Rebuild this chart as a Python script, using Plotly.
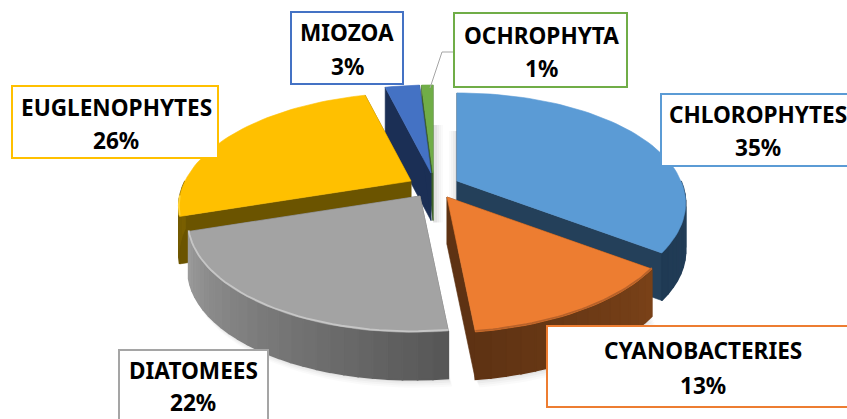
import math
import plotly.graph_objects as go

# ---- data
categories = ["CHLOROPHYTES", "CYANOBACTERIES", "DIATOMEES", "EUGLENOPHYTES", "MIOZOA", "OCHROPHYTA"]
values = [35, 13, 22, 26, 3, 1]

# ---- style
top_colors = ["#5b9bd5", "#ed7d31", "#a3a3a3", "#ffc000", "#4472c4", "#70ad47"]
wall_colors = ["#24405a", "#5e3213", "#5f5f5f", "#6b5400", "#1b2f55", "#3d6128"]
rim_from = ["#24405a", "#7a4218", "#9c9c9c", "#7a6000", "#1b2f55", "#3d6128"]
rim_to = ["#1f3a54", "#5e3213", "#565656", "#6b5400", "#1b2f55", "#3d6128"]
edge_colors = [None, "#b8622a", "#c6c6c6", "#ffd43a", None, None]
box_colors = ["#5b9bd5", "#ed7d31", "#a5a5a5", "#ffc000", "#4472c4", "#70ad47"]
FONT = "Noto Sans"

# ---- projection and exploded apex of each slice (pixels)
apex = [(457, 181), (447, 197), (420, 196), (411, 181), (431, 173), (433, 173)]
RX, RY, K, T = 228, 107, 0.215, 47.5
RX_LEFT = 222
paint_order = [5, 4, 0, 3, 1, 2]

boxes = [(661, 94, 860, 166), (547, 326, 860, 407), (119, 350, 268, 430),
         (12, 86, 218, 158), (291, 12, 403, 84), (454, 13, 627, 87)]
label_xy = [(758, 114, 147), (703, 350, 385), (193, 370, 402),
            (116, 107, 140), (347, 32, 66), (541, 35, 68)]


def pt(a, th):
    s, c = math.sin(math.radians(th)), math.cos(math.radians(th))
    w = 1 + K * c
    rx = RX if s >= 0 else RX_LEFT
    return a[0] + rx * s / w - 4 * (1 - c), a[1] - RY * c / w


def mix(c1, c2, t):
    p = [int(c1[i:i + 2], 16) for i in (1, 3, 5)]
    q = [int(c2[i:i + 2], 16) for i in (1, 3, 5)]
    return "rgb(%d,%d,%d)" % tuple(round(a + (b - a) * t) for a, b in zip(p, q))


def poly(fig, pts, color, lw=0.6):
    xs = [p[0] for p in pts] + [pts[0][0]]
    ys = [p[1] for p in pts] + [pts[0][1]]
    fig.add_trace(go.Scatter(x=xs, y=ys, mode="lines", fill="toself", fillcolor=color,
                             line=dict(color=color if lw else "rgba(0,0,0,0)", width=lw),
                             hoverinfo="skip", showlegend=False))


fig = go.Figure()
total = sum(values)
starts, acc = [], 0
for v in values:
    starts.append(acc / total * 360)
    acc += v

# soft ground shadow under the front slices
for grow, alpha in ((8, 0.02), (6, 0.025), (4, 0.03), (2, 0.04)):
    for i in (1, 2):
        a = apex[i]
        t0, t1 = starts[i], starts[i] + values[i] / total * 360
        n = 30
        arc = [pt(a, t0 + (t1 - t0) * j / n) for j in range(n + 1)]
        low = [(x + grow * 0.5, y + T + grow) for x, y in arc]
        poly(fig, [(a[0], a[1] + T)] + low, "rgba(0,0,0,%g)" % alpha, 0)
    # faint shadow in the gap beside the thin slice and the large slice
    a = apex[5]
    poly(fig, [(a[0], a[1] - 48), (a[0] + 2 + grow, a[1] - 48), (a[0] + 2 + grow, a[1] + T + 2), (a[0], a[1] + T + 2)],
         "rgba(0,0,0,%g)" % alpha, 0)
    a = apex[0]
    poly(fig, [(a[0] - grow, a[1] - 50), (a[0], a[1] - 50), (a[0], a[1] + 20), (a[0] - grow, a[1] + 20)],
         "rgba(0,0,0,%g)" % alpha, 0)

for i in paint_order:
    a = apex[i]
    t0 = starts[i]
    t1 = t0 + values[i] / total * 360
    n = max(4, int((t1 - t0) / 2))
    arc = [pt(a, t0 + (t1 - t0) * j / n) for j in range(n + 1)]
    down = lambda p: (p[0], p[1] + T)
    # radial cut walls
    for end in (arc[0], arc[-1]):
        poly(fig, [a, end, down(end), down(a)], wall_colors[i])
    # outer rim, front half only
    r0, r1 = max(t0, 90), min(t1, 270)
    if r1 > r0:
        m = max(2, int((r1 - r0) / 3))
        for j in range(m):
            p = pt(a, r0 + (r1 - r0) * j / m)
            q = pt(a, r0 + (r1 - r0) * (j + 1) / m)
            f = (j + 0.5) / m
            f = 1 - f if i in (2, 3) else f
            poly(fig, [p, q, down(q), down(p)], mix(rim_from[i], rim_to[i], f), 1.6)
    # top face
    poly(fig, [a] + arc, top_colors[i])
    if edge_colors[i]:
        lo, hi = max(t0, 100), min(t1, 262)
        if hi > lo:
            m = 40
            edge = [pt(a, lo + (hi - lo) * j / m) for j in range(m + 1)]
            fig.add_trace(go.Scatter(x=[p[0] for p in edge], y=[p[1] - 1 for p in edge], mode="lines",
                                     line=dict(color=edge_colors[i], width=1.8),
                                     hoverinfo="skip", showlegend=False))

# leader line of the small slice
fig.add_trace(go.Scatter(x=[430, 442, 454], y=[88, 52, 52], mode="lines",
                         line=dict(color="#a5a5a5", width=1), hoverinfo="skip", showlegend=False))

shapes, notes = [], []
for i, name in enumerate(categories):
    x0, y0, x1, y1 = boxes[i]
    shapes.append(dict(type="rect", x0=x0, y0=y0, x1=x1, y1=y1, xref="x", yref="y",
                       fillcolor="white", line=dict(color=box_colors[i], width=2), layer="above"))
    cx, y_a, y_b = label_xy[i]
    for txt, yy in ((name, y_a), (f"{values[i]}%", y_b)):
        notes.append(dict(x=cx, y=yy, xref="x", yref="y", text=f"<b>{txt}</b>", showarrow=False,
                          xanchor="center", yanchor="middle",
                          font=dict(family=FONT, size=22.6, color="#000000")))

fig.update_layout(width=847, height=419, margin=dict(l=0, r=0, t=0, b=0),
                  paper_bgcolor="white", plot_bgcolor="white", showlegend=False,
                  shapes=shapes, annotations=notes,
                  xaxis=dict(range=[0, 847], visible=False, fixedrange=True),
                  yaxis=dict(range=[419, 0], visible=False, fixedrange=True))
fig.write_html("out.html", config={"displayModeBar": False},
               post_script="document.body.style.margin='0';document.body.style.overflow='hidden';")
